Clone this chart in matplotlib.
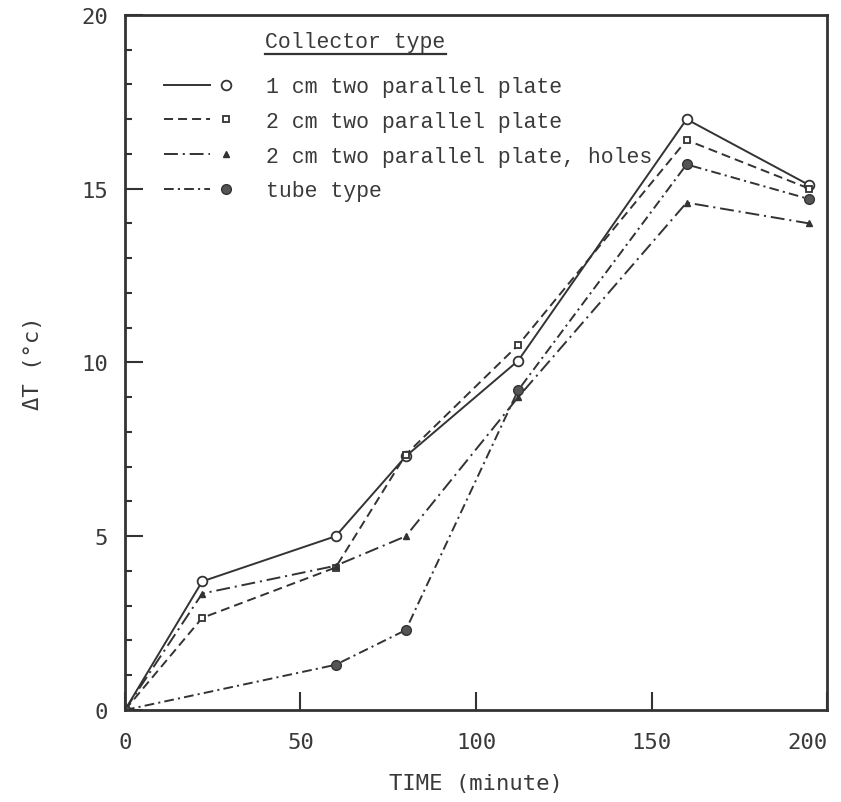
import numpy as np
import matplotlib
matplotlib.use("Agg")
import matplotlib.pyplot as plt
from matplotlib.legend_handler import HandlerLine2DCompound
from matplotlib.lines import Line2D

plt.rcParams["lines.scale_dashes"] = False

# data
time = [0, 22, 60, 80, 112, 160, 195]
dt_1cm = [0, 3.7, 5.0, 7.3, 10.05, 17.0, 15.1]
dt_2cm = [0, 2.65, 4.1, 7.35, 10.5, 16.4, 15.0]
dt_holes = [0, 3.35, 4.15, 5.0, 9.0, 14.6, 14.0]
time_tube = [0, 60, 80, 112, 160, 195]
dt_tube = [0, 1.3, 2.3, 9.2, 15.7, 14.7]

labels = ["1 cm two parallel plate",
          "2 cm two parallel plate",
          "2 cm two parallel plate, holes",
          "tube type"]

ink = "#333333"
txt = "#3a3a3a"


class EndMarker(HandlerLine2DCompound):
    # line first, marker after it (like the typed legend of the original)
    def get_xdata(self, legend, xdescent, ydescent, width, height, fontsize):
        xdata = np.array([-xdescent, -xdescent + width * 0.74])
        xmark = np.array([-xdescent + width])
        return xdata, xmark


fig = plt.figure(figsize=(8.41, 8.03), dpi=100)
ax = fig.add_axes([0.1486, 0.1146, 0.8348, 0.8655])

l1, = ax.plot(time, dt_1cm, color=ink, lw=1.4, marker="o", ms=7,
              mfc="white", mec=ink, mew=1.3, label=labels[0])
l2, = ax.plot(time, dt_2cm, color=ink, lw=1.4, dashes=(6.5, 3.6),
              marker="s", ms=5, mfc="white", mec=ink, mew=1.3, label=labels[1])
l3, = ax.plot(time, dt_holes, color=ink, lw=1.4, dashes=(10, 3.5, 1.5, 3.5),
              marker="^", ms=5, mfc=ink, mec=ink, label=labels[2])
l4, = ax.plot(time_tube, dt_tube, color=ink, lw=1.4, dashes=(7, 3, 1.5, 3),
              marker="o", ms=7, mfc="#555555", mec=ink, label=labels[3])

ax.set_xlim(0, 200)
ax.set_ylim(0, 20)
ax.set_xticks([0, 50, 100, 150, 200])
ax.set_yticks([0, 5, 10, 15, 20])
ax.set_yticks(np.arange(0, 21, 1), minor=True)

mono = "DejaVu Sans Mono"
ax.tick_params(axis="both", which="major", direction="in", length=13,
               width=1.5, color=ink, labelsize=16, labelcolor=txt)
ax.tick_params(axis="x", pad=16)
ax.tick_params(axis="y", pad=12)
ax.tick_params(axis="y", which="minor", direction="in", length=5,
               width=1.5, color=ink)
for lab in ax.get_xticklabels() + ax.get_yticklabels():
    lab.set_family(mono)
# last x label sits inside the right edge, as in the scan
ax.get_xticklabels()[-1].set_ha("right")
ax.get_xticklabels()[-1].set_x(200)
for sp in ax.spines.values():
    sp.set_linewidth(2.0)
    sp.set_color(ink)

ax.set_xlabel("TIME (minute)", family=mono, fontsize=16, color=txt, labelpad=15)
ax.set_ylabel("ΔT (°c)", family=mono, fontsize=16, color=txt, labelpad=28)

leg = ax.legend(handles=[l1, l2, l3, l4], loc="upper left",
                bbox_to_anchor=(0.028, 0.94), frameon=False,
                prop={"family": "Liberation Mono", "size": 15.5},
                handlelength=2.9, handletextpad=1.86, labelspacing=0.64,
                handler_map={Line2D: EndMarker()})
for t in leg.get_texts():
    t.set_color(txt)

title = ax.text(0.20, 0.962, "Collector type", transform=ax.transAxes,
                family="Liberation Mono", fontsize=15.5, color=txt,
                va="center", ha="left")

# underline the legend heading
fig.canvas.draw()
bb = title.get_window_extent()
inv = fig.transFigure.inverted()
(x0, y0), (x1, _) = inv.transform([[bb.x0, bb.y0 - 2], [bb.x1, bb.y0 - 2]])
fig.add_artist(Line2D([x0, x1], [y0, y0], transform=fig.transFigure,
                      color=ink, lw=1.6))

fig.savefig("out.png", dpi=100)
